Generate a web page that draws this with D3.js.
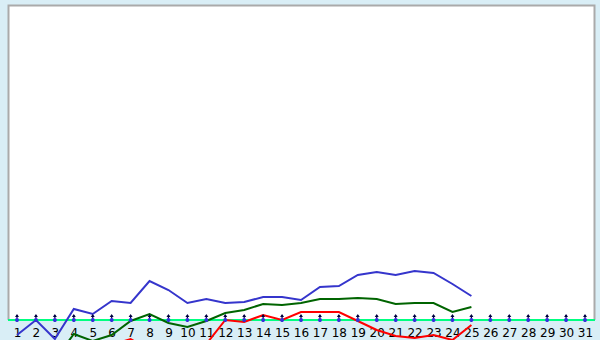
<!DOCTYPE html>
<html>
<head>
<meta charset="utf-8">
<script src="https://cdn.jsdelivr.net/npm/d3@7/dist/d3.min.js"></script>
<style>
    body { margin: 0; background: #d9eef6; }
    svg { display: block; }
</style>
</head>
<body>
<div id="chart"></div>
<script>
// days of the month
var days = d3.range(1, 32)
// series values (value 0 = baseline)
var blueVals = [-15, 0, -19, 11, 6, 19, 17, 39, 30, 17, 21, 17, 18, 23, 23, 20, 33, 34, 45, 48, 45, 49, 47, 36, 24]
var greenVals = [-50, -45, -40, -14, -21, -15, -1, 6, -3, -7, -1, 7, 10, 16, 15, 17, 21, 21, 22, 21, 16, 17, 17, 8, 13]
var redVals = [-40, -35, -30, -28, -30, -25, -19, -30, -35, -40, -24, 0, -2, 5, 0, 8, 8, 8, -1, -10, -16, -18, -15, -20, -5]

var width = 600, height = 340
var svg = d3.select('#chart').append('svg').attr('width', width).attr('height', height)

var x = d3.scalePoint().domain(days).range([17, 585])
var y = d3.scaleLinear().domain([0, 315]).range([320, 5])

// white plot area
svg.append('rect').attr('x', 8).attr('y', 5).attr('width', 587).attr('height', 315).attr('fill', '#fff')
svg.append('path')
    .attr('d', 'M8.5,320V5.5H594.5V320')
    .attr('fill', 'none').attr('stroke', '#aaa').attr('stroke-width', 2)

// baseline
svg.append('line').attr('x1', 8).attr('x2', 595).attr('y1', y(0)).attr('y2', y(0))
    .attr('stroke', '#00ff80').attr('stroke-width', 2)

// tick labels
var xAxis = d3.axisBottom(x).tickSize(0).tickPadding(8)
var ax = svg.append('g').attr('transform', 'translate(0,' + y(0) + ')').call(xAxis)
ax.select('.domain').remove()
ax.selectAll('text').attr('font-family', 'DejaVu Sans, sans-serif').attr('font-size', 12).attr('fill', '#000')

// series lines (not clipped, they run below the baseline)
var line = d3.line().x(function (d, i) { return x(days[i]) }).y(function (d) { return y(d) })
var series = [[blueVals, '#3535cc'], [greenVals, '#006400'], [redVals, '#ff0000']]
series.forEach(function (s) {
    svg.append('path').datum(s[0])
        .attr('d', line)
        .attr('fill', 'none')
        .attr('stroke', s[1])
        .attr('stroke-width', 2)
})

// small arrow markers on the baseline
var marks = svg.append('g').selectAll('g').data(days).enter().append('g')
    .attr('transform', function (d) { return 'translate(' + x(d) + ',' + y(0) + ')' })
marks.append('line').attr('x1', 0).attr('x2', 0).attr('y1', -5).attr('y2', 2)
    .attr('stroke', '#000040').attr('stroke-width', 1.2)
marks.append('path').attr('d', 'M-2,-3L0,-6L2,-3Z').attr('fill', '#000040')
marks.append('circle').attr('r', 2).attr('fill', '#3333dd')
</script>
</body>
</html>
